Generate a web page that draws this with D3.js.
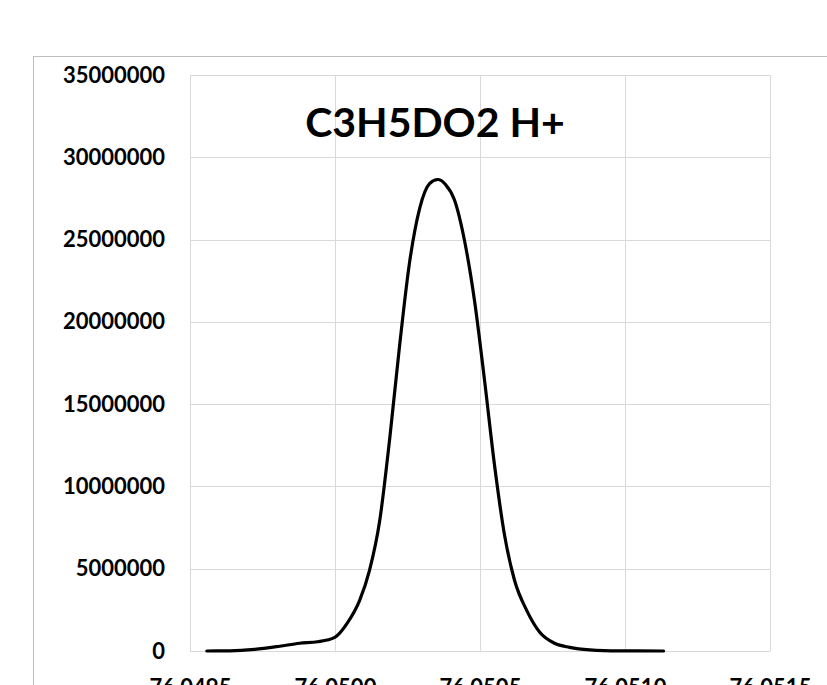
<!DOCTYPE html>
<html>
<head>
<meta charset="utf-8">
<script src="https://cdn.jsdelivr.net/npm/d3@7"></script>
<style>
  html, body { margin: 0; padding: 0; background: #fff; overflow: hidden; }
  svg { display: block; }
</style>
</head>
<body>
<div id="chart"></div>
<script>
// m/z values of the profile
const mz = [76.049558, 76.049637, 76.049723, 76.049809, 76.049878, 76.049940, 76.049999,
  76.050044, 76.050085, 76.050119, 76.050154, 76.050188, 76.050223, 76.050257, 76.050292,
  76.050326, 76.050354, 76.050381, 76.050412, 76.050447, 76.050481, 76.050516, 76.050550,
  76.050585, 76.050619, 76.050661, 76.050706, 76.050757, 76.050809, 76.050878, 76.050981,
  76.051133];
// intensity at each m/z
const intensity = [0, 10000, 100000, 290000, 470000, 560000, 830000,
  1740000, 3080000, 4900000, 7900000, 12800000, 18600000, 23600000, 26900000,
  28400000, 28650000, 28350000, 27400000, 24900000, 21300000, 16400000, 11300000,
  7000000, 4300000, 2470000, 1140000, 470000, 220000, 70000, 10000,
  0];
const xTicks = [76.0495, 76.0500, 76.0505, 76.0510, 76.0515];
const yTicks = [0, 5000000, 10000000, 15000000, 20000000, 25000000, 30000000, 35000000];
const title = 'C3H5DO2 H+';

const W = 827, H = 685;
const margin = { top: 75, right: 57, bottom: 34, left: 190 };
const width = W - margin.left - margin.right;
const height = H - margin.top - margin.bottom;

const svg = d3.select('#chart').append('svg')
  .attr('width', W)
  .attr('height', H);

// chart frame (runs off the page on the right and bottom)
svg.append('rect')
  .attr('x', 33.5).attr('y', 56.5)
  .attr('width', 900).attr('height', 900)
  .attr('fill', 'none')
  .attr('stroke', '#bfbfbf')
  .attr('stroke-width', 1);

const g = svg.append('g')
  .attr('transform', `translate(${margin.left},${margin.top})`);

const x = d3.scaleLinear().domain([76.0495, 76.0515]).range([0, width]);
const y = d3.scaleLinear().domain([0, 35000000]).range([height, 0]);

// gridlines
g.append('g')
  .selectAll('line.h')
  .data(yTicks)
  .enter().append('line')
  .attr('x1', 0).attr('x2', width)
  .attr('y1', d => Math.round(y(d)) + 0.5)
  .attr('y2', d => Math.round(y(d)) + 0.5)
  .attr('stroke', '#d9d9d9');

g.append('g')
  .selectAll('line.v')
  .data(xTicks)
  .enter().append('line')
  .attr('y1', 0).attr('y2', height)
  .attr('x1', d => Math.round(x(d)) + 0.5)
  .attr('x2', d => Math.round(x(d)) + 0.5)
  .attr('stroke', '#d9d9d9');

// y axis labels
const yAxis = g.append('g')
  .call(d3.axisLeft(y).tickValues(yTicks).tickFormat(d3.format('d')).tickSize(0).tickPadding(25));
yAxis.select('.domain').remove();
yAxis.selectAll('text')
  .attr('font-family', 'Lato, sans-serif')
  .attr('font-weight', 'bold')
  .attr('font-size', 22)
  .attr('fill', '#000');

// x axis labels (cut off by the page bottom, as in the original)
const xAxis = g.append('g')
  .attr('transform', `translate(0,${height})`)
  .call(d3.axisBottom(x).tickValues(xTicks).tickFormat(d3.format('.4f')).tickSize(0).tickPadding(28));
xAxis.select('.domain').remove();
xAxis.selectAll('text')
  .attr('font-family', 'Lato, sans-serif')
  .attr('font-weight', 'bold')
  .attr('font-size', 22)
  .attr('fill', '#000');

// profile line
const line = d3.line()
  .x((d, i) => x(mz[i]))
  .y(d => y(d))
  .curve(d3.curveMonotoneX);

g.append('path')
  .datum(intensity)
  .attr('d', line)
  .attr('fill', 'none')
  .attr('stroke', '#000')
  .attr('stroke-width', 3.2)
  .attr('stroke-linejoin', 'round')
  .attr('stroke-linecap', 'round');

// title
svg.append('text')
  .attr('x', 435)
  .attr('y', 137)
  .attr('text-anchor', 'middle')
  .attr('font-family', 'Lato, sans-serif')
  .attr('font-weight', 'bold')
  .attr('font-size', 41)
  .attr('fill', '#000')
  .text(title);
</script>
</body>
</html>
